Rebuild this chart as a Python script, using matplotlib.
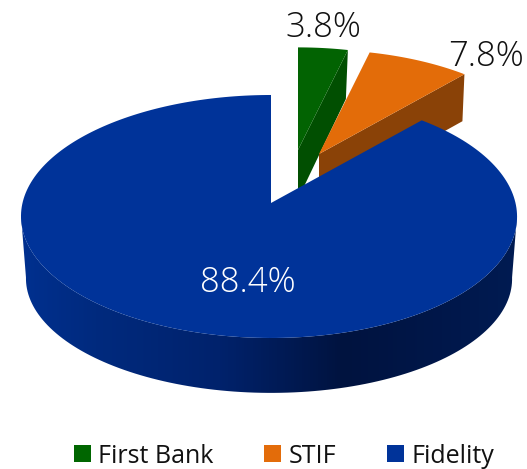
import numpy as np
import matplotlib
matplotlib.use("Agg")
import matplotlib.pyplot as plt
from matplotlib.colors import LinearSegmentedColormap
from matplotlib.patches import Patch, Polygon

plt.rcParams['font.family'] = ['Open Sans', 'DejaVu Sans']

labels = ['First Bank', 'STIF', 'Fidelity']
values = [3.8, 7.8, 88.4]
pct_labels = ['3.8%', '7.8%', '88.4%']
top_colors = ['#026302', '#E36C09', '#003399']
face_colors = ['#014F01', '#8A4207', '#003399']
legend_colors = ['#006600', '#E36C0A', '#003399']
side_stops = [0.0, 0.15, 0.4, 0.65, 0.85, 1.0]
side_shades = ['#00308F', '#002A7E', '#00226C', '#00133F', '#00174A', '#001B52']

RX, RY, K = 246.5, 120, 0.111


def rim(theta, cx, cy, scale=1.0, sx=1.0, sy=1.0):
    # tilted circle -> picture, theta clockwise from 12 o'clock
    u, v = np.sin(theta), np.cos(theta)
    w = 1 + K * v
    return np.column_stack([cx + scale * sx * RX * u / w - 2 * u ** 2, cy - scale * sy * RY * v / w])


fig = plt.figure(figsize=(5.27, 4.69), dpi=100)
ax = fig.add_axes([0, 0, 1, 1])
ax.set_xlim(0, 527)
ax.set_ylim(469, 0)
ax.axis('off')

edges = np.radians(np.cumsum([0] + values) * 3.6)

# exploded slices, back to front
exploded = [(298, 150, 0.95, 49), (319, 154, 0.965, 47)]
for i, (cx, cy, scale, depth) in enumerate(exploded):
    t = np.linspace(edges[i], edges[i + 1], 40)
    arc = rim(t, cx, cy, scale)
    corner = arc[-1]
    side = np.array([[cx, cy], corner, corner + [-2, depth], [cx, cy + depth]])
    ax.add_patch(Polygon(side, closed=True, fc=face_colors[i], ec='none', zorder=2 + i))
    ax.add_patch(Polygon(np.vstack([[cx, cy], arc]), closed=True, fc=top_colors[i], ec='none', zorder=2 + i))

# big slice
cx, cy = 271, 203
t_side = np.linspace(np.pi / 2 + 0.1, 3 * np.pi / 2 - 0.1, 120)
upper = rim(t_side, cx, cy)
lower = rim(t_side, cx, cy + 63, 1.0, 0.98, 0.94)
side_path = Polygon(np.vstack([upper, lower[::-1]]), closed=True, fc='none', ec='none', zorder=5)
ax.add_patch(side_path)
cmap = LinearSegmentedColormap.from_list('side', list(zip(side_stops, side_shades)))
grad = ax.imshow(np.linspace(0, 1, 256).reshape(1, -1), cmap=cmap, vmin=0, vmax=1,
                 extent=[21, 517, 400, 200], aspect='auto', zorder=5)
grad.set_clip_path(side_path)
ax.set_xlim(0, 527)
ax.set_ylim(469, 0)

t = np.linspace(edges[2], edges[3], 240)
ax.add_patch(Polygon(np.vstack([[cx, cy], rim(t, cx, cy)]), closed=True,
                     fc=top_colors[2], ec='none', zorder=6))

ax.text(323, 28, pct_labels[0], ha='center', va='center', fontsize=25, fontweight='light', color='#111111', zorder=8)
ax.text(485.5, 57, pct_labels[1], ha='center', va='center', fontsize=25, fontweight='light', color='#111111', zorder=8)
ax.text(248, 283, pct_labels[2], ha='center', va='center', fontsize=25, fontweight='light', color='white', zorder=8)

handles = [Patch(fc=c, ec='none', label=l) for c, l in zip(legend_colors, labels)]
ax.legend(handles=handles, ncol=3, loc='center', bbox_to_anchor=(284 / 527, 1 - 456 / 469),
          frameon=False, fontsize=18, handlelength=0.68, handleheight=0.68,
          handletextpad=0.3, columnspacing=2.02, labelcolor='#111111')

fig.savefig('out.png', dpi=100)
